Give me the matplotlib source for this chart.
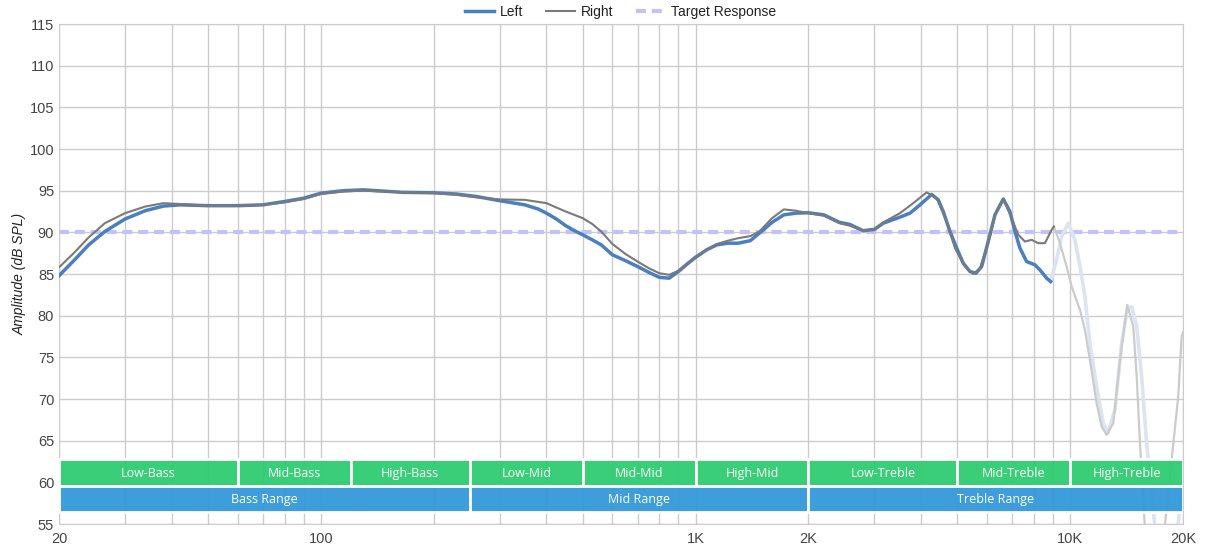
import matplotlib
matplotlib.use("Agg")

import matplotlib.pyplot as plt
from matplotlib.patches import Rectangle

left_freq = [20, 22, 24, 26.5, 30, 34, 38, 42, 50, 60, 70, 80, 90, 100, 115, 130,
             165, 200, 230, 260, 300, 350, 380, 400, 425, 450, 475, 500, 530, 560,
             600, 650, 700, 750, 800, 850, 900, 950, 1000, 1070, 1140, 1220, 1300,
             1400, 1480, 1600, 1720, 1850, 2000, 2200, 2420, 2580, 2800, 3000, 3170,
             3500, 3735, 3972, 4266, 4444, 4582, 4776, 4977, 5180, 5400, 5604, 5802,
             6040, 6296, 6626, 6902, 7120, 7342, 7648, 8050, 8300, 8650, 8864]
left_db = [84.8, 86.7, 88.5, 90.1, 91.6, 92.6, 93.15, 93.3, 93.2, 93.2, 93.3, 93.7,
           94.1, 94.7, 95.0, 95.1, 94.8, 94.75, 94.6, 94.3, 93.8, 93.3, 92.8, 92.3,
           91.6, 90.8, 90.2, 89.7, 89.1, 88.5, 87.3, 86.6, 85.9, 85.2, 84.6, 84.5,
           85.3, 86.2, 87.0, 87.9, 88.5, 88.7, 88.7, 89.0, 89.9, 91.2, 92.1, 92.3,
           92.35, 92.1, 91.2, 90.95, 90.2, 90.35, 91.1, 91.8, 92.3, 93.3, 94.55, 93.9,
           92.5, 90.1, 88.1, 86.3, 85.3, 85.1, 85.9, 88.9, 92.1, 94.0, 92.5, 90.1,
           88.1, 86.5, 86.1, 85.5, 84.5, 84.1]

right_freq = [20, 22, 24, 26.5, 30, 34, 38, 42, 50, 60, 70, 80, 90, 100, 115, 130,
              165, 200, 230, 260, 300, 350, 400, 450, 500, 530, 560, 600, 650, 700,
              750, 800, 850, 900, 950, 1000, 1070, 1140, 1220, 1300, 1400, 1480, 1600,
              1720, 1850, 2000, 2200, 2420, 2580, 2800, 3000, 3170, 3512, 3810, 4138,
              4400, 4679, 4924, 5236, 5510, 5742, 6040, 6296, 6626, 6976, 7266, 7568,
              7890, 8218, 8560, 8920, 9046]
right_db = [85.8, 87.6, 89.4, 91.1, 92.3, 93.1, 93.5, 93.4, 93.2, 93.2, 93.3, 93.6,
            94.0, 94.6, 94.9, 95.0, 94.8, 94.7, 94.5, 94.2, 93.95, 93.9, 93.5, 92.5,
            91.7, 91.0, 90.1, 88.6, 87.4, 86.5, 85.7, 85.1, 84.9, 85.4, 86.3, 87.1,
            87.9, 88.6, 89.0, 89.3, 89.55, 90.1, 91.7, 92.75, 92.6, 92.3, 92.0, 91.1,
            90.8, 90.2, 90.4, 91.2, 92.3, 93.5, 94.8, 94.1, 91.3, 88.1, 85.9, 85.0,
            85.7, 88.7, 92.0, 94.0, 91.7, 89.7, 88.9, 89.1, 88.7, 88.7, 90.3, 90.7]

# faded part above ~9 kHz
left_hi_freq = [8864, 9196, 9486, 9878, 10292, 10616, 10944, 11284, 11762, 12248,
                12600, 13166, 13718, 14200, 14588, 15044, 15508, 15994, 16800, 18000,
                19400, 20000]
left_hi_db = [84.1, 86.7, 89.5, 91.1, 89.1, 85.9, 82.3, 76.7, 71.5, 67.1, 65.9, 68.7,
              76.7, 80.8, 81.1, 78.7, 72.7, 64.7, 55.0, 47.0, 55.0, 60.0]
right_hi_freq = [9046, 9386, 9781, 10086, 10616, 10944, 11284, 11762, 12130, 12508,
                 13028, 13576, 14200, 14732, 15044, 15348, 15800, 16600, 17900, 19418,
                 19830, 20000]
right_hi_db = [90.7, 88.7, 85.9, 83.5, 80.7, 78.3, 74.7, 69.5, 66.7, 65.7, 67.1, 74.7,
               81.3, 78.7, 72.7, 64.7, 55.0, 46.0, 55.0, 70.3, 77.5, 78.0]

target_db = 90

sub_bands = ["Low-Bass", "Mid-Bass", "High-Bass", "Low-Mid", "Mid-Mid", "High-Mid",
             "Low-Treble", "Mid-Treble", "High-Treble"]
sub_edges = [20, 60, 120, 250, 500, 1000, 2000, 5000, 10000, 20000]
main_bands = ["Bass Range", "Mid Range", "Treble Range"]
main_edges = [20, 250, 2000, 20000]

grid_freqs = [20, 30, 40, 50, 60, 70, 80, 90, 100, 200, 300, 400, 500, 600, 700, 800,
              900, 1000, 2000, 3000, 4000, 5000, 6000, 7000, 8000, 9000, 10000, 20000]
labelled = {20: "20", 100: "100", 1000: "1K", 2000: "2K", 10000: "10K", 20000: "20K"}

plt.rcParams["font.family"] = ["Liberation Sans", "DejaVu Sans"]

fig = plt.figure(figsize=(12.1, 5.53), dpi=100)
ax = fig.add_axes([0.0488, 0.0524, 0.9289, 0.9042])

ax.set_xscale("log")
ax.set_xlim(20, 20000)
ax.set_ylim(55, 115)
ax.set_yticks(range(55, 116, 5))
ax.set_xticks(grid_freqs)
ax.set_xticklabels([labelled.get(f, "") for f in grid_freqs])
ax.minorticks_off()
ax.tick_params(length=0, labelsize=10.5, colors="#444444")
ax.tick_params(axis="x", pad=6)
ax.grid(True, color="#cccccc", linewidth=1)
ax.set_axisbelow(True)
for sp in ax.spines.values():
    sp.set_color("#cccccc")

dash = (0, (2.4, 1.4))
ax.axhline(target_db, color="#c2c2f9", linewidth=3, linestyle=dash, zorder=1)
ax.plot(left_hi_freq, left_hi_db, color="#dbe4f1", linewidth=2.6, zorder=2)
ax.plot(right_hi_freq, right_hi_db, color="#cbcbcb", linewidth=1.6, zorder=2)
ax.plot(left_freq, left_db, color="#4a7fc0", linewidth=2.5, zorder=3)
ax.plot(right_freq, right_db, color="#7a7a7a", linewidth=1.5, zorder=3)

# frequency band bars along the bottom
band_font = ["Open Sans", "DejaVu Sans"]
for name, f0, f1 in zip(sub_bands, sub_edges[:-1], sub_edges[1:]):
    ax.add_patch(Rectangle((f0, 59.6), f1 - f0, 3.15, facecolor=(0.18, 0.8, 0.44, 0.95),
                           edgecolor="white", linewidth=2, zorder=4))
    ax.text((f0 * f1) ** 0.5, 61.05, name, ha="center", va="center", color="white",
            fontsize=9, family=band_font, zorder=5)
for name, f0, f1 in zip(main_bands, main_edges[:-1], main_edges[1:]):
    ax.add_patch(Rectangle((f0, 56.5), f1 - f0, 3.1, facecolor=(0.2, 0.6, 0.86, 0.95),
                           edgecolor="white", linewidth=2, zorder=4))
    ax.text((f0 * f1) ** 0.5, 58.0, name, ha="center", va="center", color="white",
            fontsize=9, family=band_font, zorder=5)

ax.set_ylabel("Amplitude (dB SPL)", fontsize=10, fontstyle="italic", color="#222222",
              labelpad=2)

handles = [
    plt.Line2D([], [], color="#4a7fc0", linewidth=2.5),
    plt.Line2D([], [], color="#7a7a7a", linewidth=1.5),
    plt.Line2D([], [], color="#c2c2f9", linewidth=3, linestyle=dash),
]
fig.legend(handles, ["Left", "Right", "Target Response"], loc="upper center",
           bbox_to_anchor=(0.513, 1.014), ncol=3, frameon=False, fontsize=10,
           handlelength=2.1, columnspacing=1.6, handletextpad=0.45, labelcolor="#222222")

fig.savefig("out.png", dpi=100)
